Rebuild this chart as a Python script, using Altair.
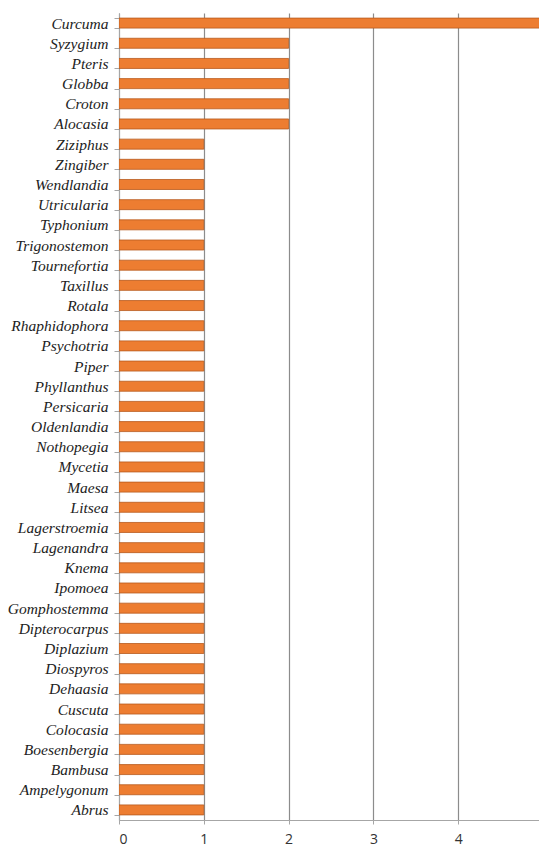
import altair as alt
import pandas as pd

genera = ["Curcuma", "Syzygium", "Pteris", "Globba", "Croton", "Alocasia",
          "Ziziphus", "Zingiber", "Wendlandia", "Utricularia", "Typhonium",
          "Trigonostemon", "Tournefortia", "Taxillus", "Rotala", "Rhaphidophora",
          "Psychotria", "Piper", "Phyllanthus", "Persicaria", "Oldenlandia",
          "Nothopegia", "Mycetia", "Maesa", "Litsea", "Lagerstroemia",
          "Lagenandra", "Knema", "Ipomoea", "Gomphostemma", "Dipterocarpus",
          "Diplazium", "Diospyros", "Dehaasia", "Cuscuta", "Colocasia",
          "Boesenbergia", "Bambusa", "Ampelygonum", "Abrus"]
counts = [5, 2, 2, 2, 2, 2] + [1] * 34
x_ticks = [0, 1, 2, 3, 4, 5]

df = pd.DataFrame({"genus": genera, "count": counts})

bars = alt.Chart(df).mark_bar(
    color="#ED7D31", stroke="#B85A1E", strokeWidth=0.8, clip=True,
    size=10
).encode(
    x=alt.X("count:Q",
            scale=alt.Scale(domain=[0, 4.953], nice=False, zero=True),
            axis=alt.Axis(values=x_ticks, title=None, grid=True,
                          gridColor="#8c8c8c", gridWidth=1.2,
                          domainColor="#a6a6a6", tickColor="#a6a6a6",
                          tickSize=4, labelFont="Open Sans", labelFontSize=14,
                          labelColor="#333333", labelPadding=8)),
    y=alt.Y("genus:N", sort=genera,
            scale=alt.Scale(paddingInner=0.5, paddingOuter=0.25),
            axis=alt.Axis(title=None, tickBand="extent", domainColor="#a6a6a6",
                          tickColor="#a6a6a6", tickSize=5,
                          labelFont="Liberation Serif", labelFontStyle="italic",
                          labelFontSize=15.5, labelColor="#222222",
                          labelPadding=6))
)

chart = bars.properties(
    width=420, height=807,
    autosize=alt.AutoSizeParams(type="none"),
    padding={"left": 119, "top": 13, "right": 0, "bottom": 27}
).configure_view(stroke=None)

chart.save("out.html", embed_options={"renderer": "svg", "actions": False})
